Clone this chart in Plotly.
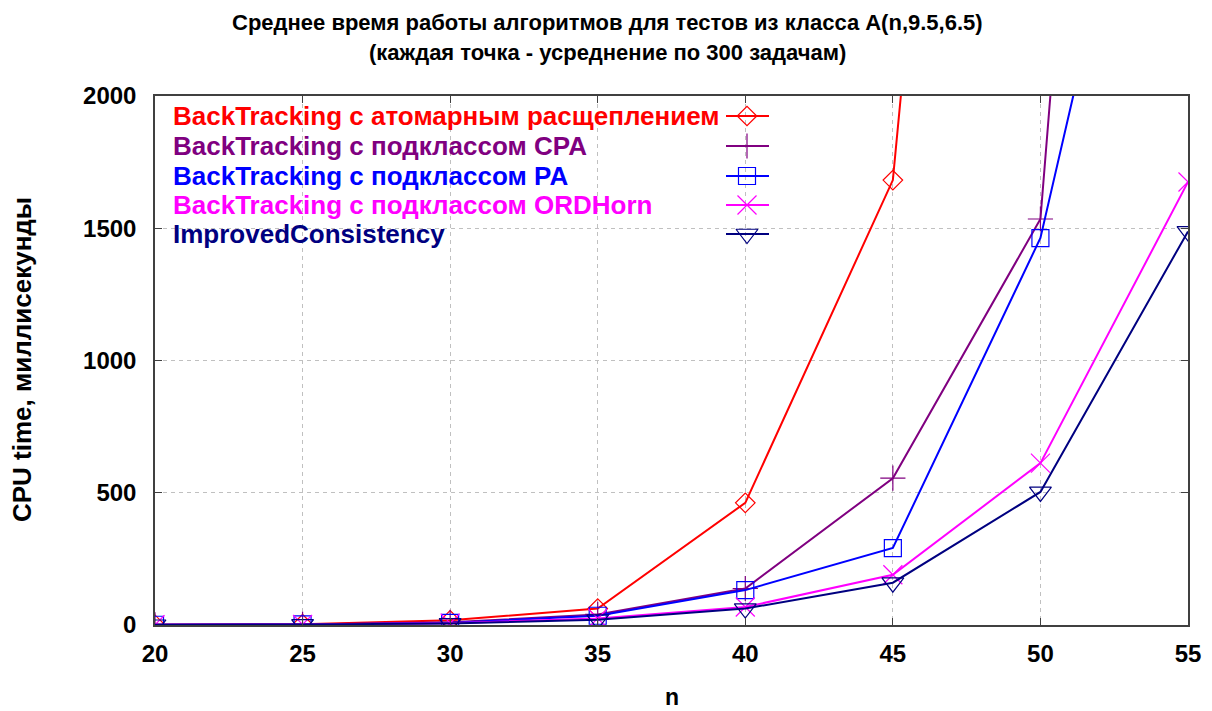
import plotly.graph_objects as go

# Problem size n
n_values = [20, 25, 30, 35, 40, 45, 50, 55]

# Mean CPU time (ms) per algorithm
bt_atomic = [1, 3, 18, 62, 462, 1682, 7560, None]
bt_cpa = [1, 2, 10, 40, 138, 555, 1535, 8450]
bt_pa = [1, 2, 8, 35, 132, 291, 1463, 3880]
bt_ordhorn = [1, 2, 7, 25, 68, 190, 612, 1675]
improved = [1, 2, 6, 20, 62, 160, 503, 1488]

series_names = [
    "BackTracking с атомарным расщеплением",
    "BackTracking с подклассом CPA",
    "BackTracking с подклассом PA",
    "BackTracking с подклассом ORDHorn",
    "ImprovedConsistency",
]
series_values = [bt_atomic, bt_cpa, bt_pa, bt_ordhorn, improved]
series_colors = ["#FF0000", "#800080", "#0000FF", "#FF00FF", "#000080"]
series_symbols = ["diamond-open", "cross-thin-open", "square-open", "x-thin-open", "triangle-down-open"]
series_sizes = [15, 18, 17, 19, 19]

title_lines = [
    "Среднее время работы алгоритмов для тестов из класса A(n,9.5,6.5)",
    "(каждая точка - усреднение по 300 задачам)",
]
y_ticks = [0, 500, 1000, 1500, 2000]
x_ticks = [20, 25, 30, 35, 40, 45, 50, 55]

FONT = "Liberation Sans, Arial, sans-serif"

W, H = 1212, 711
L, R, T, B = 155, 24, 96, 86
PW, PH = W - L - R, H - T - B

fig = go.Figure()

for name, vals, col, sym, sz in zip(series_names, series_values, series_colors,
                                    series_symbols, series_sizes):
    fig.add_trace(go.Scatter(
        x=n_values, y=vals, mode="lines+markers", name=name,
        line=dict(color=col, width=2),
        marker=dict(symbol=sym, size=sz, color=col, line=dict(color=col, width=1.2)),
        showlegend=False, cliponaxis=True, connectgaps=False,
    ))

# Key: coloured label text with a line/marker sample on the right
def px_to_fx(px):
    return (px - L) / PW

def py_to_fy(py):
    return (H - B - py) / PH

row_y = [116, 146, 176, 205, 234]
for name, col, sym, sz, ry in zip(series_names, series_colors, series_symbols,
                                   series_sizes, row_y):
    fy = py_to_fy(ry)
    fig.add_trace(go.Scatter(
        x=[px_to_fx(726), px_to_fx(747), px_to_fx(769)], y=[fy, fy, fy],
        xaxis="x2", yaxis="y2", mode="lines",
        line=dict(color=col, width=2), showlegend=False, hoverinfo="skip",
    ))
    fig.add_trace(go.Scatter(
        x=[px_to_fx(747)], y=[fy], xaxis="x2", yaxis="y2", mode="markers",
        marker=dict(symbol=sym, size=sz, color=col, line=dict(color=col, width=1.2)),
        showlegend=False, hoverinfo="skip",
    ))
    fig.add_annotation(
        x=px_to_fx(171), y=fy, xref="paper", yref="paper",
        xanchor="left", yanchor="middle", showarrow=False,
        text=f"<b>{name}</b>", font=dict(family=FONT, size=26, color=col),
    )

# Title lines
for line, ty in zip(title_lines, [22, 52]):
    fig.add_annotation(
        x=px_to_fx(607), y=py_to_fy(ty), xref="paper", yref="paper",
        xanchor="center", yanchor="middle", showarrow=False,
        text=f"<b>{line}</b>", font=dict(family=FONT, size=22, color="#000000"),
    )

# Axis titles
fig.add_annotation(
    x=px_to_fx(22), y=py_to_fy(360), xref="paper", yref="paper",
    xanchor="center", yanchor="middle", showarrow=False, textangle=-90,
    text="<b>CPU time, миллисекунды</b>", font=dict(family=FONT, size=26, color="#000000"),
)
fig.add_annotation(
    x=0.5, y=py_to_fy(711), xref="paper", yref="paper",
    xanchor="center", yanchor="bottom", showarrow=False, borderpad=0,
    text="<b>n</b>", font=dict(family=FONT, size=23, color="#000000"),
)

axis_common = dict(
    showline=True, linecolor="#404040", linewidth=1.5, mirror="ticks",
    ticks="inside", ticklen=7, tickcolor="#404040",
    showgrid=True, gridcolor="#C0C0C0", griddash="4px,4px", gridwidth=1,
    zeroline=False,
    tickfont=dict(family=FONT, size=24, color="#000000"),
)

fig.update_layout(
    width=W, height=H,
    margin=dict(l=L, r=R, t=T, b=B, autoexpand=False),
    paper_bgcolor="white", plot_bgcolor="white",
    xaxis=dict(range=[20, 55], tickvals=x_ticks,
               ticktext=[f"<b>{v}</b>" for v in x_ticks],
               ticklabelstandoff=6, **axis_common),
    yaxis=dict(range=[0, 2000], tickvals=y_ticks,
               ticktext=[f"<b>{v}</b>" for v in y_ticks],
               ticklabelstandoff=12, **axis_common),
    xaxis2=dict(overlaying="x", range=[0, 1], visible=False, fixedrange=True),
    yaxis2=dict(overlaying="y", range=[0, 1], visible=False, fixedrange=True),
    showlegend=False,
)

fig.write_html("out.html")
